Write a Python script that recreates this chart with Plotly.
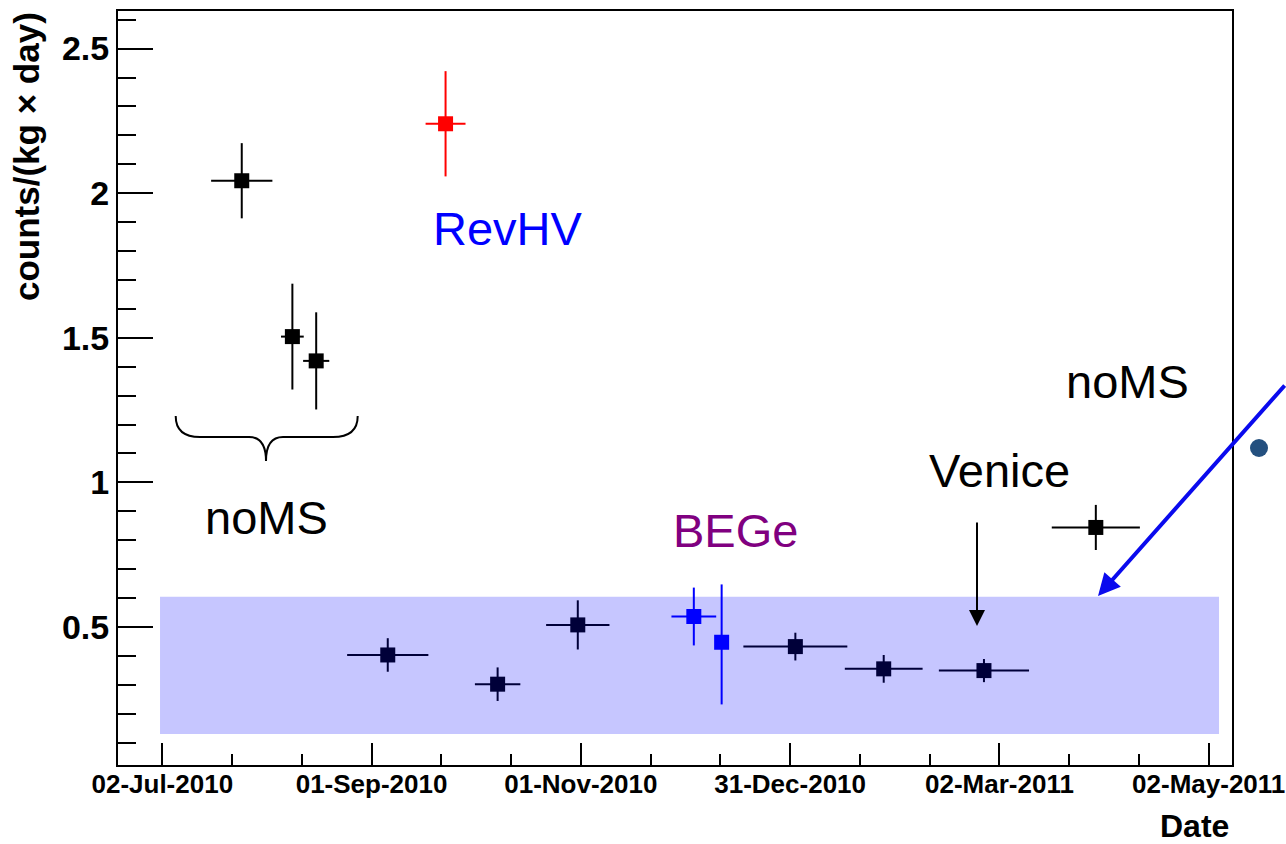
import pandas as pd
import plotly.graph_objects as go

# ---------------- data ----------------
black_dates = ["2010-07-25 02:00", "2010-08-08 19:00", "2010-08-15 17:00",
               "2010-09-05 12:00", "2010-10-07 10:00", "2010-10-30 17:00",
               "2011-01-01 22:00", "2011-01-27 14:00", "2011-02-25 17:00",
               "2011-03-30 05:00"]
black_vals = [2.043, 1.504, 1.42, 0.403, 0.302, 0.507, 0.432, 0.355, 0.349, 0.844]
black_yerr = [0.13, 0.183, 0.168, 0.058, 0.058, 0.085, 0.048, 0.048, 0.04, 0.078]
black_xerr_days = [8.9, 3.3, 3.8, 11.8, 6.6, 9.2, 15.1, 11.3, 13.1, 12.8]

red_dates = ["2010-09-22 07:00"]
red_vals = [2.24]
red_yerr = [0.182]
red_xerr_days = [5.8]

blue_dates = ["2010-12-03 10:00", "2010-12-11 12:00"]
blue_vals = [0.536, 0.447]
blue_yerr_plus = [0.10, 0.20]
blue_yerr_minus = [0.10, 0.215]
blue_xerr_days = [6.5, 0.0]

tick_labels = ["02-Jul-2010", "01-Sep-2010", "01-Nov-2010",
               "31-Dec-2010", "02-Mar-2011", "02-May-2011"]
y_tick_vals = [0.5, 1.0, 1.5, 2.0, 2.5]
y_tick_text = ["0.5", "1", "1.5", "2", "2.5"]

band_low, band_high = 0.13, 0.604
band_start, band_end = "2010-07-01 08:00", "2011-05-05 00:00"

# ---------------- helpers ----------------
W, H = 1286, 844
L, R, T, B = 118, 1232, 11, 765


def pxx(x):
    return (x - L) / (R - L)


def pxy(y):
    return (B - y) / (B - T)


# uniform ROOT-style time ticks
t0 = pd.Timestamp("2010-07-02")
step = pd.Timedelta(days=60.8)
major_ticks = [t0 + k * step for k in range(len(tick_labels))]
minor_ticks = [t0 + k * step + j * step / 3 for k in range(-1, len(tick_labels))
               for j in (1, 2)]
minor_ticks = [m for m in minor_ticks if pd.Timestamp("2010-06-19") < m < pd.Timestamp("2011-05-09")]

fig = go.Figure()


def add_series(dates, vals, yplus, yminus, xerr_days, color):
    xs = pd.to_datetime(dates)
    # horizontal error bars (bin widths) built from the data
    hx, hy = [], []
    for d, v, e in zip(xs, vals, xerr_days):
        if e > 0:
            hx += [d - pd.Timedelta(days=e), d + pd.Timedelta(days=e), None]
            hy += [v, v, None]
    if hx:
        fig.add_trace(go.Scatter(x=hx, y=hy, mode="lines",
                                 line=dict(color=color, width=2),
                                 showlegend=False, hoverinfo="skip"))
    fig.add_trace(go.Scatter(
        x=xs, y=vals, mode="markers",
        marker=dict(symbol="square", size=15, color=color, line=dict(width=0)),
        error_y=dict(type="data", array=yplus, arrayminus=yminus, symmetric=False,
                     color=color, thickness=2, width=0),
        showlegend=False, cliponaxis=False,
    ))


add_series(black_dates, black_vals, black_yerr, black_yerr, black_xerr_days, "black")
add_series(red_dates, red_vals, red_yerr, red_yerr, red_xerr_days, "#ff0000")
add_series(blue_dates, blue_vals, blue_yerr_plus, blue_yerr_minus, blue_xerr_days, "#0000ff")

# translucent band
fig.add_shape(type="rect", xref="x", yref="y", x0=band_start, x1=band_end,
              y0=band_low, y1=band_high, fillcolor="rgba(0,0,255,0.224)",
              line=dict(width=0), layer="above")

# brace under the first noMS points
brace = (f"M {pxx(175.7)},{pxy(416)} Q {pxx(175.7)},{pxy(437)} {pxx(200)},{pxy(437)} "
         f"L {pxx(249)},{pxy(437)} Q {pxx(266)},{pxy(437)} {pxx(266)},{pxy(461)} "
         f"Q {pxx(266)},{pxy(437)} {pxx(283)},{pxy(437)} "
         f"L {pxx(333)},{pxy(437)} Q {pxx(357.7)},{pxy(437)} {pxx(357.7)},{pxy(416)}")
fig.add_shape(type="path", xref="paper", yref="paper", path=brace,
              line=dict(color="black", width=2))

# small dot outside the frame
fig.add_shape(type="circle", xref="paper", yref="paper",
              x0=pxx(1250), x1=pxx(1268), y0=pxy(457), y1=pxy(439),
              fillcolor="#24507f", line=dict(width=0))

txt_font = dict(family="Liberation Sans, Arial, sans-serif", size=47)
annots = [
    dict(text="RevHV", x=pxx(508), y=pxy(228), color="#0000ff"),
    dict(text="noMS", x=pxx(266), y=pxy(517), color="black"),
    dict(text="BEGe", x=pxx(735), y=pxy(530), color="#800080"),
    dict(text="Venice", x=pxx(999), y=pxy(470), color="black"),
    dict(text="noMS", x=pxx(1127), y=pxy(381), color="black"),
]
for a in annots:
    fig.add_annotation(text=a["text"], x=a["x"], y=a["y"], xref="paper", yref="paper",
                       showarrow=False, xanchor="center", yanchor="middle",
                       font=dict(**txt_font, color=a["color"]))

# Venice arrow
fig.add_annotation(text="", x=pxx(977), y=pxy(626), xref="paper", yref="paper",
                   showarrow=True, ax=0, ay=-105, arrowhead=2, arrowsize=1.6,
                   arrowwidth=2, arrowcolor="black")
# blue pointer arrow
fig.add_annotation(text="", x=pxx(1098), y=pxy(596), xref="paper", yref="paper",
                   showarrow=True, ax=212, ay=-212, arrowhead=2, arrowsize=1.1,
                   arrowwidth=4, arrowcolor="#0a0aee")

# axis titles
fig.add_annotation(text="counts/(kg × day)", x=pxx(26), y=pxy(156), xref="paper",
                   yref="paper", showarrow=False, textangle=-90,
                   xanchor="center", yanchor="middle",
                   font=dict(family="Liberation Sans, Arial, sans-serif", size=35,
                             color="black", weight="bold"))
fig.add_annotation(text="Date", x=pxx(1231), y=pxy(826), xref="paper", yref="paper",
                   showarrow=False, xanchor="right", yanchor="middle",
                   font=dict(family="Liberation Sans, Arial, sans-serif", size=32,
                             color="black", weight="bold"))

tick_font = dict(family="Liberation Sans, Arial, sans-serif", color="black", weight="bold")

fig.update_xaxes(
    type="date",
    range=[pd.Timestamp("2010-07-02") - pd.Timedelta(days=12.87),
           pd.Timestamp("2011-05-02") + pd.Timedelta(days=6.77)],
    tickmode="array", tickvals=major_ticks, ticktext=tick_labels,
    ticks="inside", ticklen=22, tickwidth=2, tickcolor="black",
    minor=dict(tickmode="array", tickvals=minor_ticks, ticks="inside",
               ticklen=11, tickwidth=2, tickcolor="black", showgrid=False),
    showline=True, linewidth=2, linecolor="black", mirror=True,
    showgrid=False, zeroline=False, tickfont=dict(**tick_font, size=26),
    ticklabelstandoff=-5,
)
fig.update_yaxes(
    range=[0.0225, 2.63],
    tickmode="array", tickvals=y_tick_vals, ticktext=y_tick_text,
    ticks="inside", ticklen=35, tickwidth=2, tickcolor="black",
    minor=dict(dtick=0.1, tick0=0, ticks="inside", ticklen=18, tickwidth=2,
               tickcolor="black", showgrid=False),
    showline=True, linewidth=2, linecolor="black", mirror=True,
    showgrid=False, zeroline=False, tickfont=dict(**tick_font, size=34),
)

fig.update_layout(
    width=W, height=H,
    margin=dict(l=L, r=W - R, t=T, b=H - B, autoexpand=False),
    paper_bgcolor="white", plot_bgcolor="white",
    showlegend=False,
)

fig.write_html("out.html", config={"displayModeBar": False},
               post_script="document.body.style.margin='0';")
